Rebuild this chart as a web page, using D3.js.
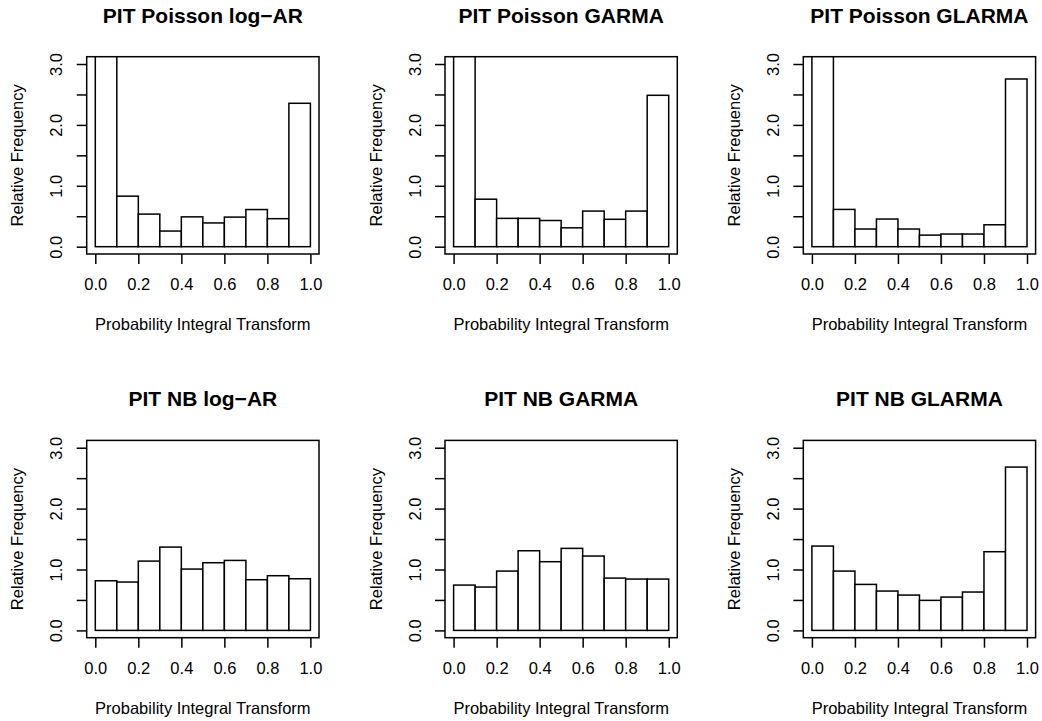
<!DOCTYPE html>
<html>
<head>
<meta charset="utf-8">
<script src="https://cdn.jsdelivr.net/npm/d3@7"></script>
<style>
  body { margin: 0; background: #fff; }
  text { font-family: "Liberation Sans", Arial, Helvetica, sans-serif; fill: #000; }
</style>
</head>
<body>
<div id="chart"></div>
<script>
// PIT histograms, density scale, 10 bins
const titles = [
  "PIT Poisson log\u2212AR", "PIT Poisson GARMA", "PIT Poisson GLARMA",
  "PIT NB log\u2212AR", "PIT NB GARMA", "PIT NB GLARMA"
];
const breaks = [0, 0.1, 0.2, 0.3, 0.4, 0.5, 0.6, 0.7, 0.8, 0.9, 1.0];

const poissonLogAR = [3.59, 0.83, 0.535, 0.257, 0.49, 0.39, 0.486, 0.61, 0.46, 2.355];
const poissonGarma = [3.44, 0.78, 0.465, 0.465, 0.43, 0.31, 0.585, 0.45, 0.585, 2.486];
const poissonGlarma = [4.63, 0.612, 0.29, 0.454, 0.29, 0.19, 0.208, 0.208, 0.36, 2.754];
const nbLogAR = [0.815, 0.794, 1.138, 1.368, 1.007, 1.111, 1.149, 0.832, 0.898, 0.848];
const nbGarma = [0.744, 0.712, 0.974, 1.308, 1.128, 1.347, 1.221, 0.859, 0.843, 0.843];
const nbGlarma = [1.385, 0.974, 0.755, 0.646, 0.58, 0.493, 0.547, 0.63, 1.292, 2.682];

const xTicks = [0, 0.2, 0.4, 0.6, 0.8, 1.0];
const yTicks = [0, 0.5, 1.0, 1.5, 2.0, 2.5, 3.0];
const yLabelled = [0, 1.0, 2.0, 3.0];

const series = [poissonLogAR, poissonGarma, poissonGlarma, nbLogAR, nbGarma, nbGlarma];

const width = 1042, height = 721;
const colStep = 358.3, rowStep = 383.7;
const plotLeft = 86.7, plotTop = 56.7, plotW = 232.3, plotH = 197.3;

const svg = d3.select("#chart").append("svg")
  .attr("width", width)
  .attr("height", height);

svg.append("rect").attr("width", width).attr("height", height).attr("fill", "#fff");

svg.append("defs").append("clipPath")
  .attr("id", "plot-clip")
  .append("rect")
  .attr("width", plotW)
  .attr("height", plotH);

// R style: 4% padding on both ends
const x = d3.scaleLinear().domain([-0.04, 1.04]).range([0, plotW]);
const y = d3.scaleLinear().domain([-0.12, 3.12]).range([plotH, 0]);

series.forEach((vals, i) => {
  const col = i % 3, row = Math.floor(i / 3);
  const g = svg.append("g")
    .attr("transform", `translate(${plotLeft + col * colStep},${plotTop + row * rowStep})`);

  const bins = vals.map((v, j) => ({ x0: breaks[j], x1: breaks[j + 1], v }));

  g.append("g")
    .attr("clip-path", "url(#plot-clip)")
    .selectAll("rect")
    .data(bins)
    .enter().append("rect")
    .attr("x", d => x(d.x0))
    .attr("y", d => y(d.v))
    .attr("width", d => x(d.x1) - x(d.x0))
    .attr("height", d => y(0) - y(d.v))
    .attr("fill", "#fff")
    .attr("stroke", "#000")
    .attr("stroke-width", 1.5);

  // box
  g.append("rect")
    .attr("width", plotW)
    .attr("height", plotH)
    .attr("fill", "none")
    .attr("stroke", "#000")
    .attr("stroke-width", 1.5);

  // x axis
  const xa = g.append("g")
    .attr("transform", `translate(0,${plotH})`)
    .call(d3.axisBottom(x).tickValues(xTicks).tickSize(10).tickFormat(d3.format(".1f")));
  xa.select(".domain").remove();
  xa.selectAll(".tick line").attr("stroke", "#000").attr("stroke-width", 1.5);
  xa.selectAll(".tick text")
    .attr("y", 36).attr("dy", 0)
    .style("font-size", "16.5px");

  // y axis
  const ya = g.append("g")
    .call(d3.axisLeft(y).tickValues(yTicks).tickSize(10)
      .tickFormat(d => yLabelled.includes(d) ? d3.format(".1f")(d) : ""));
  ya.select(".domain").remove();
  ya.selectAll(".tick line").attr("stroke", "#000").attr("stroke-width", 1.5);
  ya.selectAll(".tick text")
    .attr("x", 0).attr("dy", 0)
    .attr("text-anchor", "middle")
    .attr("transform", "translate(-24.5,0) rotate(-90)")
    .style("font-size", "16.5px");

  // title
  g.append("text")
    .attr("x", plotW / 2)
    .attr("y", -34)
    .attr("text-anchor", "middle")
    .style("font-weight", "bold")
    .style("font-size", "21px")
    .text(titles[i]);

  // axis labels
  g.append("text")
    .attr("x", plotW / 2)
    .attr("y", plotH + 76.5)
    .attr("text-anchor", "middle")
    .style("font-size", "16.5px")
    .text("Probability Integral Transform");

  g.append("text")
    .attr("transform", `translate(-63.5,${plotH / 2}) rotate(-90)`)
    .attr("text-anchor", "middle")
    .style("font-size", "16.5px")
    .text("Relative Frequency");
});
</script>
</body>
</html>
